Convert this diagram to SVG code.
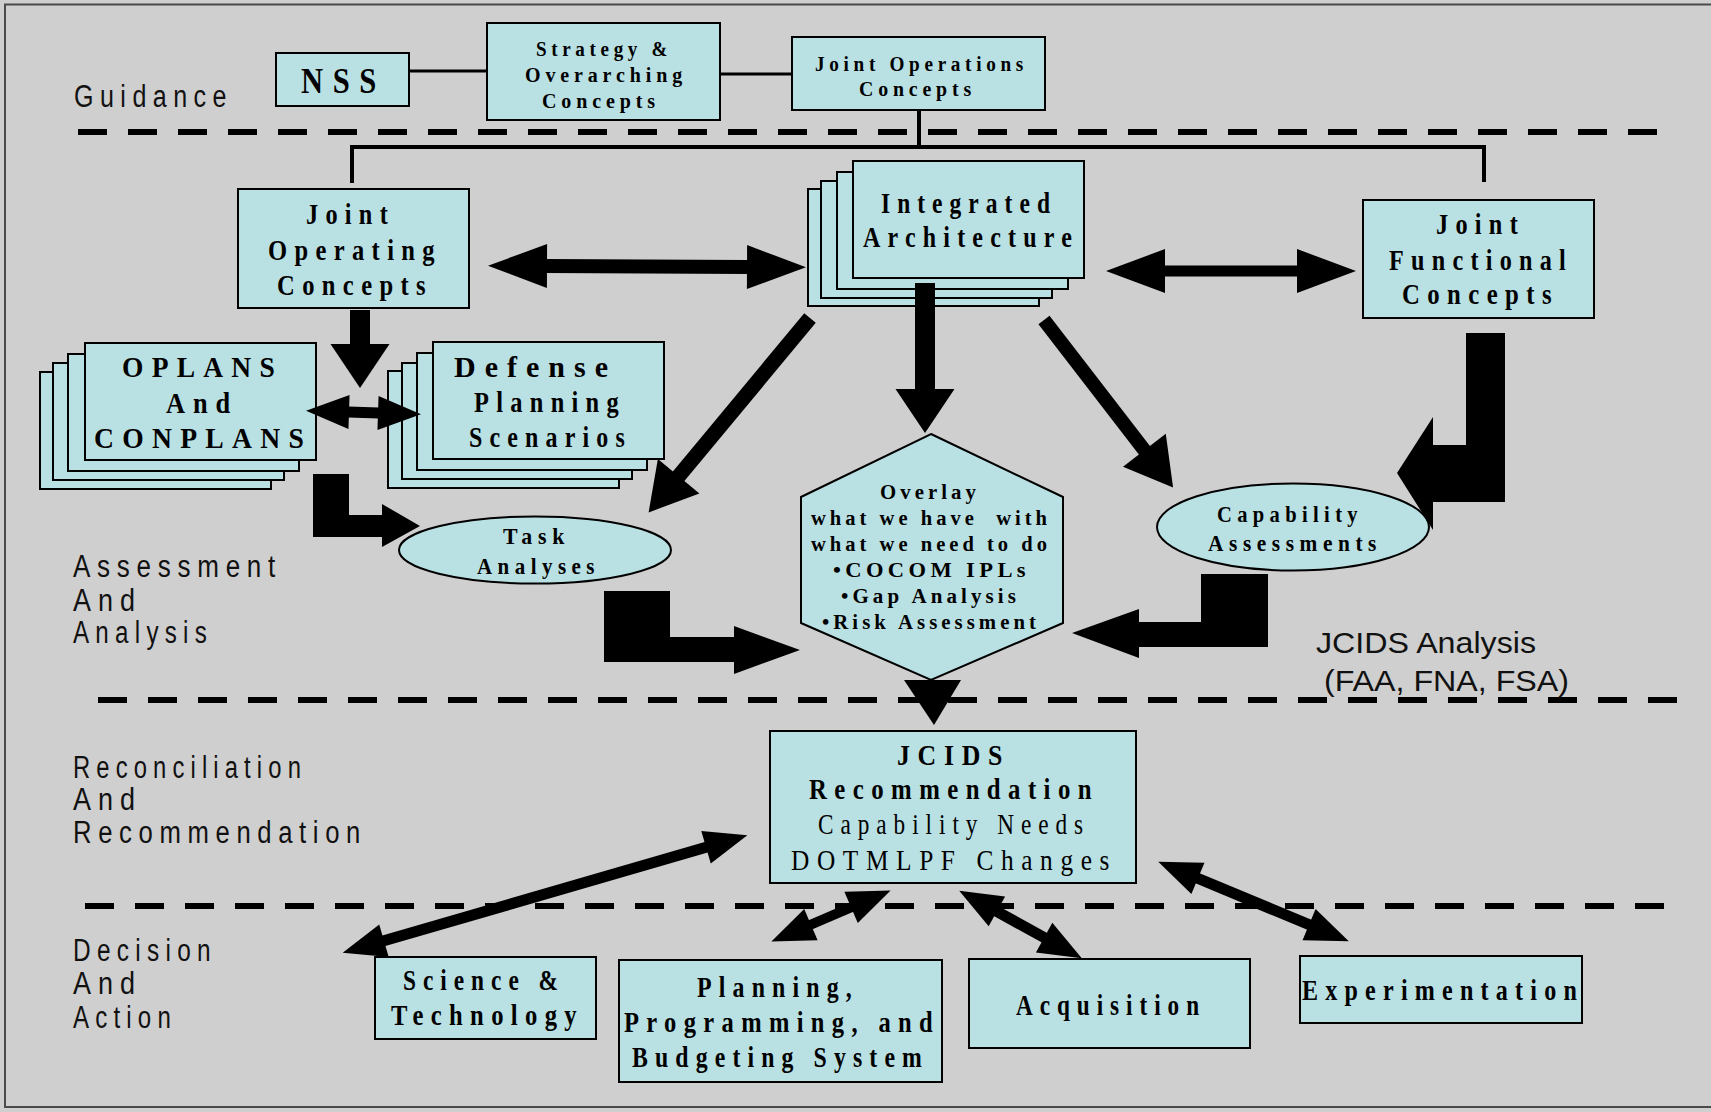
<svg xmlns="http://www.w3.org/2000/svg" width="1711" height="1112" viewBox="0 0 1711 1112">
<style>
.bg{fill:#cfcfcf}
.box{fill:#b9e0e3;stroke:#000;stroke-width:2}
.lab{font-family:"Liberation Sans",Arial,sans-serif;font-size:31px;letter-spacing:8px;fill:#111}
.lab2{font-family:"Liberation Sans",Arial,sans-serif;font-size:30px;fill:#111}
.bt{font-family:"Liberation Serif","Times New Roman",serif;font-weight:bold;font-size:30px;letter-spacing:9px;fill:#000}
.rt{font-family:"Liberation Serif","Times New Roman",serif;font-size:30px;letter-spacing:9px;fill:#000}
.st{font-family:"Liberation Serif","Times New Roman",serif;font-weight:bold;font-size:20.5px;letter-spacing:5px;fill:#000}
.et{font-family:"Liberation Serif","Times New Roman",serif;font-weight:bold;font-size:23px;letter-spacing:6px;fill:#000}
.ht{font-family:"Liberation Serif","Times New Roman",serif;font-weight:bold;font-size:20.5px;letter-spacing:4px;fill:#000}
.nss{font-family:"Liberation Serif","Times New Roman",serif;font-weight:bold;font-size:35px;letter-spacing:11px;fill:#000}
.dash{stroke:#000;stroke-width:6;stroke-dasharray:29 21;fill:none}
.ln{stroke:#000;fill:none}
.arr{stroke:#000;fill:none;stroke-linecap:butt}
.blk{fill:#000;stroke:none}
</style>
<defs>
<marker id="mA" markerUnits="userSpaceOnUse" markerWidth="70" markerHeight="50" refX="0" refY="0" orient="auto-start-reverse" overflow="visible"><path d="M-1,-22 L58,0 L-1,22 Z" fill="#000"/></marker>
<marker id="mB" markerUnits="userSpaceOnUse" markerWidth="50" markerHeight="40" refX="0" refY="0" orient="auto-start-reverse" overflow="visible"><path d="M-1,-17 L42,0 L-1,17 Z" fill="#000"/></marker>
<marker id="mC" markerUnits="userSpaceOnUse" markerWidth="50" markerHeight="60" refX="0" refY="0" orient="auto-start-reverse" overflow="visible"><path d="M-1,-27 L46,0 L-1,27 Z" fill="#000"/></marker>
<marker id="mD" markerUnits="userSpaceOnUse" markerWidth="50" markerHeight="60" refX="0" refY="0" orient="auto-start-reverse" overflow="visible"><path d="M-1,-29.5 L43,0 L-1,29.5 Z" fill="#000"/></marker>
</defs>

<rect x="0" y="0" width="1711" height="1112" class="bg"/>
<rect x="5" y="4.5" width="1720" height="1102.5" fill="#cfcfcf" stroke="#4a4a4a" stroke-width="2"/>

<g id="lanes">
<line class="dash" x1="78" y1="132" x2="1662" y2="132"/>
<line class="dash" x1="98" y1="700" x2="1680" y2="700"/>
<line class="dash" x1="85" y1="906" x2="1668" y2="906"/>
<text class="lab" x="74" y="107" textLength="159" lengthAdjust="spacingAndGlyphs">Guidance</text>
<text class="lab" x="73" y="577" textLength="209" lengthAdjust="spacingAndGlyphs">Assessment</text>
<text class="lab" x="73" y="611" textLength="69" lengthAdjust="spacingAndGlyphs">And</text>
<text class="lab" x="73" y="643" textLength="140" lengthAdjust="spacingAndGlyphs">Analysis</text>
<text class="lab" x="73" y="778" textLength="234" lengthAdjust="spacingAndGlyphs">Reconciliation</text>
<text class="lab" x="73" y="810" textLength="69" lengthAdjust="spacingAndGlyphs">And</text>
<text class="lab" x="73" y="843" textLength="294" lengthAdjust="spacingAndGlyphs">Recommendation</text>
<text class="lab" x="73" y="961" textLength="144" lengthAdjust="spacingAndGlyphs">Decision</text>
<text class="lab" x="73" y="994" textLength="69" lengthAdjust="spacingAndGlyphs">And</text>
<text class="lab" x="73" y="1028" textLength="104" lengthAdjust="spacingAndGlyphs">Action</text>
<text class="lab2" x="1316" y="653" textLength="220" lengthAdjust="spacingAndGlyphs">JCIDS Analysis</text>
<text class="lab2" x="1324" y="691" textLength="245" lengthAdjust="spacingAndGlyphs">(FAA, FNA, FSA)</text>
</g>

<g id="node-nss">
<rect class="box" x="276" y="53" width="133" height="53"/>
<text class="nss" x="301" y="93" textLength="85" lengthAdjust="spacingAndGlyphs">NSS</text>
</g>
<g id="node-strategy">
<rect class="box" x="487" y="23" width="233" height="97" stroke-width="2.5"/>
<text class="st" x="536" y="56" textLength="136" lengthAdjust="spacingAndGlyphs">Strategy &amp;</text>
<text class="st" x="525" y="82" textLength="162" lengthAdjust="spacingAndGlyphs">Overarching</text>
<text class="st" x="542" y="108" textLength="118" lengthAdjust="spacingAndGlyphs">Concepts</text>
</g>
<g id="node-joint-ops">
<rect class="box" x="792" y="37" width="253" height="73"/>
<text class="st" x="815" y="71" textLength="213" lengthAdjust="spacingAndGlyphs">Joint Operations</text>
<text class="st" x="859" y="96" textLength="117" lengthAdjust="spacingAndGlyphs">Concepts</text>
</g>

<g id="node-joc">
<rect class="box" x="238" y="189" width="231" height="119"/>
<text class="bt" x="306" y="224" textLength="89" lengthAdjust="spacingAndGlyphs">Joint</text>
<text class="bt" x="268" y="260" textLength="174" lengthAdjust="spacingAndGlyphs">Operating</text>
<text class="bt" x="277" y="295" textLength="156" lengthAdjust="spacingAndGlyphs">Concepts</text>
</g>

<g id="node-ia">
<rect class="box" x="808" y="189" width="231" height="117"/>
<rect class="box" x="821" y="181" width="231" height="117"/>
<rect class="box" x="837" y="172" width="231" height="117"/>
<rect class="box" x="853" y="161" width="231" height="117"/>
<text class="bt" x="881" y="213" textLength="176" lengthAdjust="spacingAndGlyphs">Integrated</text>
<text class="bt" x="863" y="247" textLength="216" lengthAdjust="spacingAndGlyphs">Architecture</text>
</g>

<g id="node-jfc">
<rect class="box" x="1363" y="200" width="231" height="118"/>
<text class="bt" x="1436" y="234" textLength="89" lengthAdjust="spacingAndGlyphs">Joint</text>
<text class="bt" x="1389" y="270" textLength="184" lengthAdjust="spacingAndGlyphs">Functional</text>
<text class="bt" x="1402" y="304" textLength="157" lengthAdjust="spacingAndGlyphs">Concepts</text>
</g>

<g id="node-oplans">
<rect class="box" x="40" y="372" width="231" height="117"/>
<rect class="box" x="53" y="363" width="231" height="117"/>
<rect class="box" x="68" y="354" width="231" height="117"/>
<rect class="box" x="85" y="343" width="231" height="117"/>
<text class="bt" x="122" y="377" textLength="161" lengthAdjust="spacingAndGlyphs">OPLANS</text>
<text class="bt" x="166" y="413" textLength="72" lengthAdjust="spacingAndGlyphs">And</text>
<text class="bt" x="94" y="448" textLength="218" lengthAdjust="spacingAndGlyphs">CONPLANS</text>
</g>

<g id="node-defense">
<rect class="box" x="388" y="371" width="231" height="117"/>
<rect class="box" x="402" y="363" width="230" height="116"/>
<rect class="box" x="417" y="353" width="230" height="117"/>
<rect class="box" x="433" y="342" width="231" height="117"/>
<text class="bt" x="454" y="377" textLength="163" lengthAdjust="spacingAndGlyphs">Defense</text>
<text class="bt" x="474" y="412" textLength="152" lengthAdjust="spacingAndGlyphs">Planning</text>
<text class="bt" x="469" y="447" textLength="163" lengthAdjust="spacingAndGlyphs">Scenarios</text>
</g>

<g id="node-task">
<ellipse class="box" cx="535" cy="550" rx="136" ry="33.5"/>
<text class="et" x="503" y="544" textLength="67" lengthAdjust="spacingAndGlyphs">Task</text>
<text class="et" x="477" y="574" textLength="123" lengthAdjust="spacingAndGlyphs">Analyses</text>
</g>

<g id="node-capability">
<ellipse class="box" cx="1293" cy="527" rx="136" ry="43.5"/>
<text class="et" x="1217" y="522" textLength="146" lengthAdjust="spacingAndGlyphs">Capability</text>
<text class="et" x="1208" y="551" textLength="174" lengthAdjust="spacingAndGlyphs">Assessments</text>
</g>

<g id="node-overlay">
<polygon class="box" points="931,434 1063,497 1063,623 931,680 801,623 801,497"/>
<text class="ht" x="880" y="499" textLength="100" lengthAdjust="spacingAndGlyphs">Overlay</text>
<text class="ht" x="811" y="525" textLength="240" lengthAdjust="spacingAndGlyphs" xml:space="preserve">what we have  with</text>
<text class="ht" x="811" y="551" textLength="240" lengthAdjust="spacingAndGlyphs">what we need to do</text>
<text class="ht" x="833" y="577" textLength="197" lengthAdjust="spacingAndGlyphs">•COCOM IPLs</text>
<text class="ht" x="841" y="603" textLength="179" lengthAdjust="spacingAndGlyphs">•Gap Analysis</text>
<text class="ht" x="822" y="629" textLength="218" lengthAdjust="spacingAndGlyphs">•Risk Assessment</text>
</g>

<g id="node-jcids">
<rect class="box" x="770" y="731" width="366" height="152"/>
<text class="bt" x="897" y="765" textLength="113" lengthAdjust="spacingAndGlyphs">JCIDS</text>
<text class="bt" x="809" y="799" textLength="290" lengthAdjust="spacingAndGlyphs">Recommendation</text>
<text class="rt" x="818" y="834" textLength="272" lengthAdjust="spacingAndGlyphs">Capability Needs</text>
<text class="rt" x="791" y="870" textLength="326" lengthAdjust="spacingAndGlyphs">DOTMLPF Changes</text>
</g>

<g id="node-st">
<rect class="box" x="375" y="957" width="221" height="82"/>
<text class="bt" x="403" y="990" textLength="162" lengthAdjust="spacingAndGlyphs">Science &amp;</text>
<text class="bt" x="391" y="1025" textLength="193" lengthAdjust="spacingAndGlyphs">Technology</text>
</g>

<g id="node-ppbs">
<rect class="box" x="619" y="960" width="323" height="122"/>
<text class="bt" x="697" y="997" textLength="162" lengthAdjust="spacingAndGlyphs">Planning,</text>
<text class="bt" x="624" y="1032" textLength="316" lengthAdjust="spacingAndGlyphs">Programming, and</text>
<text class="bt" x="632" y="1067" textLength="297" lengthAdjust="spacingAndGlyphs">Budgeting System</text>
</g>

<g id="node-acq">
<rect class="box" x="969" y="959" width="281" height="89"/>
<text class="bt" x="1016" y="1015" textLength="190" lengthAdjust="spacingAndGlyphs">Acquisition</text>
</g>

<g id="node-exp">
<rect class="box" x="1300" y="956" width="282" height="67"/>
<text class="bt" x="1302" y="1000" textLength="282" lengthAdjust="spacingAndGlyphs">Experimentation</text>
</g>

<g id="connectors">
<line class="ln" stroke-width="3" x1="409" y1="71" x2="487" y2="71"/>
<line class="ln" stroke-width="3" x1="720" y1="74" x2="792" y2="74"/>
<polyline class="ln" stroke-width="4" points="919,110 919,147"/>
<polyline class="ln" stroke-width="4" points="352,183 352,147 1484,147 1484,182"/>

<line class="arr" stroke-width="14" x1="546" y1="266" x2="748" y2="267" marker-start="url(#mA)" marker-end="url(#mA)"/>
<line class="arr" stroke-width="11" x1="1164" y1="271" x2="1298" y2="271" marker-start="url(#mA)" marker-end="url(#mA)"/>
<line class="arr" stroke-width="20" x1="360" y1="310" x2="360" y2="345" marker-end="url(#mD)"/>
<line class="arr" stroke-width="11" x1="348" y1="412" x2="379" y2="413" marker-start="url(#mB)" marker-end="url(#mB)"/>
<line class="arr" stroke-width="15" x1="810" y1="318" x2="678" y2="477" marker-end="url(#mC)"/>
<line class="arr" stroke-width="20" x1="925" y1="283" x2="925" y2="390" marker-end="url(#mD)"/>
<line class="arr" stroke-width="14" x1="1044" y1="320" x2="1145" y2="451" marker-end="url(#mC)"/>

<polygon class="blk" points="1466,333 1505,333 1505,502 1433,502 1433,530 1397,473 1433,417 1433,445 1466,445"/>
<polygon class="blk" points="313,474 349,474 349,515 382,515 382,504 420,526 382,547 382,537 313,537"/>
<polygon class="blk" points="604,591 670,591 670,637 734,637 734,626 800,650 734,674 734,662 604,662"/>
<polygon class="blk" points="1201,574 1268,574 1268,647 1139,647 1139,658 1072,633 1139,609 1139,622 1201,622"/>
<polygon class="blk" points="904,680 961,680 934,725"/>

<line class="arr" stroke-width="11" x1="383" y1="941" x2="707" y2="847" marker-start="url(#mB)" marker-end="url(#mB)"/>
<line class="arr" stroke-width="10" x1="810" y1="925" x2="852" y2="907" marker-start="url(#mB)" marker-end="url(#mB)"/>
<line class="arr" stroke-width="11" x1="996" y1="911" x2="1045" y2="938" marker-start="url(#mB)" marker-end="url(#mB)"/>
<line class="arr" stroke-width="11" x1="1197" y1="878" x2="1310" y2="925" marker-start="url(#mB)" marker-end="url(#mB)"/>
</g>
</svg>
